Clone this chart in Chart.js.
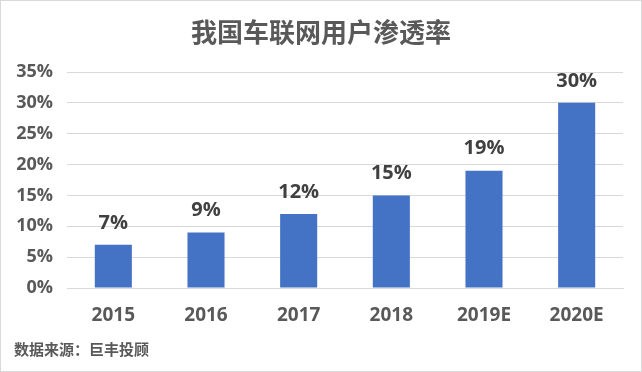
<!DOCTYPE html>
<html>
<head>
<meta charset="utf-8">
<script src="https://cdn.jsdelivr.net/npm/chart.js@4"></script>
<style>
  html, body { margin: 0; padding: 0; background: #fff; }
  #wrap { width: 642px; height: 372px; position: relative; }
</style>
</head>
<body>
<div id="wrap"><canvas id="chart"></canvas></div>
<script>
// chart data
const years = ['2015', '2016', '2017', '2018', '2019E', '2020E'];
const penetration = [7, 9, 12, 15, 19, 30];
const yTicks = [0, 5, 10, 15, 20, 25, 30, 35];

const titleText = '我国车联网用户渗透率';
const sourceText = '数据来源：巨丰投顾';
const FONT = '"Open Sans", "Noto Sans CJK SC", sans-serif';

// title, source note, border and value labels
const decorPlugin = {
    id: 'decor',
    afterDraw(chart) {
        const ctx = chart.ctx;
        ctx.save();
        ctx.strokeStyle = '#d9d9d9';
        ctx.lineWidth = 1;
        ctx.strokeRect(0.5, 0.5, chart.width - 1, chart.height - 1);

        ctx.fillStyle = '#595959';
        ctx.textAlign = 'center';
        ctx.textBaseline = 'middle';
        ctx.font = 'bold 26px "Noto Sans CJK SC", sans-serif';
        ctx.fillText(titleText, 321, 32);

        ctx.textAlign = 'left';
        ctx.font = 'bold 15px "Noto Sans CJK SC", sans-serif';
        ctx.fillText(sourceText, 14, 349);

        const meta = chart.getDatasetMeta(0);
        ctx.fillStyle = '#404040';
        ctx.textAlign = 'center';
        ctx.textBaseline = 'middle';
        ctx.font = 'bold 20px ' + FONT;
        meta.data.forEach((bar, i) => {
            ctx.fillText(penetration[i] + '%', bar.x, bar.y - 22);
        });
        ctx.restore();
    }
};

new Chart(document.getElementById('chart'), {
    type: 'bar',
    data: {
        labels: years,
        datasets: [{
            data: penetration,
            backgroundColor: '#4472c4',
            categoryPercentage: 1,
            barPercentage: 0.4
        }]
    },
    options: {
        responsive: true,
        maintainAspectRatio: false,
        animation: false,
        layout: { padding: { top: 72, right: 19, bottom: 44, left: 0 } },
        plugins: {
            legend: { display: false },
            title: { display: false },
            tooltip: { enabled: false }
        },
        scales: {
            x: {
                grid: { display: false },
                border: { color: '#d9d9d9' },
                ticks: {
                    color: '#595959',
                    font: { family: FONT, size: 19, weight: 'bold' },
                    padding: 8
                },
                afterFit(scale) { scale.height = 40; }
            },
            y: {
                min: 0,
                max: 35,
                afterBuildTicks(scale) {
                    scale.ticks = yTicks.map(v => ({ value: v }));
                },
                grid: { color: '#d9d9d9', drawTicks: false },
                border: { display: false },
                ticks: {
                    color: '#595959',
                    font: { family: FONT, size: 18, weight: 'bold' },
                    padding: 14,
                    callback: v => v + '%'
                },
                afterFit(scale) { scale.width = 67; }
            }
        }
    },
    plugins: [decorPlugin]
});
</script>
</body>
</html>
